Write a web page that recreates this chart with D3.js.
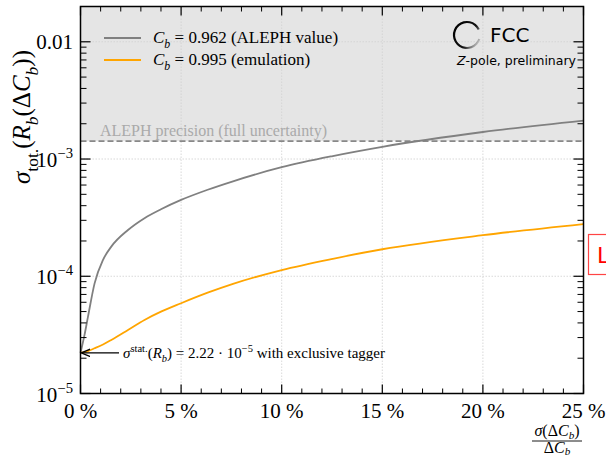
<!DOCTYPE html>
<html><head><meta charset="utf-8"><script src="https://cdn.jsdelivr.net/npm/d3@7"></script></head>
<body style="margin:0">
<script>
// values
const deltaCb = [0, 0.2, 0.37, 0.7, 1.12, 1.53, 2.36, 3.18, 4, 5, 6.32, 7.58, 10, 12.54, 15, 20, 25];
const alephSigma = [2.22e-5, 3.16e-5, 4.5e-5, 8.7e-5, 1.38e-4, 1.79e-4, 2.48e-4, 3.13e-4, 3.73e-4, 4.48e-4, 5.47e-4, 6.46e-4, 8.51e-4, 1.06e-3, 1.27e-3, 1.70e-3, 2.13e-3];
const emuSigma = [2.22e-5, 2.25e-5, 2.3e-5, 2.43e-5, 2.62e-5, 2.86e-5, 3.48e-5, 4.24e-5, 4.99e-5, 5.89e-5, 7.24e-5, 8.61e-5, 1.13e-4, 1.41e-4, 1.70e-4, 2.24e-4, 2.79e-4];
const alephPrecision = 1.42e-3;
const statPoint = 2.22e-5;
const xMajor = [0, 5, 10, 15, 20, 25];
const yMajor = [1e-5, 1e-4, 1e-3, 1e-2];

const W = 606, H = 459;
const m = {left: 80.5, right: 583.5, top: 6.5, bottom: 393.5};
const SERIF = "Liberation Serif";
const SANS = "DejaVu Sans";

const svg = d3.select("body").append("svg").attr("width", W).attr("height", H);
svg.append("style").text(".serif, .serif tspan { font-family: 'Liberation Serif', 'Times New Roman', serif; } .sans { font-family: 'DejaVu Sans', sans-serif; }");

const x = d3.scaleLinear().domain([0, 25]).range([m.left, m.right]);
const y = d3.scaleLog().domain([1e-5, 0.02]).range([m.bottom, m.top]);

// math-ish text helper: parts = [[text, kind]], kind: n, i, sub, isub, sup
function mathText(g, parts, size, subShift) {
	const t = g.append("text").attr("class", "serif").attr("font-size", size).attr("font-family", SERIF);
	const sub = subShift === undefined ? 0.3 : subShift;
	let shift = 0;
	parts.forEach(([s, k]) => {
		const sp = t.append("tspan").text(s);
		let target = 0;
		if (k === "sub" || k === "isub") { target = size * sub; sp.attr("font-size", size * 0.7); }
		if (k === "sup") { target = -size * 0.42; sp.attr("font-size", size * 0.7); }
		if (k === "i" || k === "isub") sp.attr("font-style", "italic");
		sp.attr("dy", target - shift);
		shift = target;
	});
	return t;
}

// shaded region above ALEPH precision
svg.append("rect")
	.attr("x", m.left).attr("y", m.top)
	.attr("width", m.right - m.left).attr("height", y(alephPrecision) - m.top)
	.attr("fill", "#e5e5e5");

// grid
const grid = svg.append("g").attr("stroke", "#cfcfcf").attr("stroke-width", 0.8).attr("stroke-dasharray", "1.5,1.5");
xMajor.slice(1, -1).forEach(v => grid.append("line").attr("x1", x(v)).attr("x2", x(v)).attr("y1", m.top).attr("y2", m.bottom));
yMajor.slice(1).forEach(v => grid.append("line").attr("x1", m.left).attr("x2", m.right).attr("y1", y(v)).attr("y2", y(v)));

// ALEPH precision
svg.append("line")
	.attr("x1", m.left).attr("x2", m.right)
	.attr("y1", y(alephPrecision)).attr("y2", y(alephPrecision))
	.attr("stroke", "#888").attr("stroke-width", 1.6).attr("stroke-dasharray", "6,3");
svg.append("text").attr("class", "serif").attr("x", 100).attr("y", y(alephPrecision) - 5)
	.attr("font-size", 16).attr("fill", "#aaa").attr("font-family", SERIF)
	.text("ALEPH precision (full uncertainty)");

// curves
const line = d3.line().x(d => x(d[0])).y(d => y(d[1])).curve(d3.curveMonotoneX);
svg.append("path").datum(d3.zip(deltaCb, alephSigma)).attr("d", line)
	.attr("fill", "none").attr("stroke", "#808080").attr("stroke-width", 1.8);
svg.append("path").datum(d3.zip(deltaCb, emuSigma)).attr("d", line)
	.attr("fill", "none").attr("stroke", "#ffa500").attr("stroke-width", 1.8);

// axes frame + ticks (inward, all sides)
const ax = svg.append("g").attr("stroke", "#000");
const xMinor = d3.range(0, 26).filter(v => v % 5 !== 0);
xMajor.forEach(v => {
	ax.append("line").attr("x1", x(v)).attr("x2", x(v)).attr("y1", m.bottom).attr("y2", m.bottom - 9).attr("stroke-width", 1.2);
	ax.append("line").attr("x1", x(v)).attr("x2", x(v)).attr("y1", m.top).attr("y2", m.top + 9).attr("stroke-width", 1.2);
});
xMinor.forEach(v => {
	ax.append("line").attr("x1", x(v)).attr("x2", x(v)).attr("y1", m.bottom).attr("y2", m.bottom - 5).attr("stroke-width", 1);
	ax.append("line").attr("x1", x(v)).attr("x2", x(v)).attr("y1", m.top).attr("y2", m.top + 5).attr("stroke-width", 1);
});
const yMinor = [];
[1e-5, 1e-4, 1e-3, 1e-2].forEach(d => d3.range(2, 10).forEach(k => { if (k * d < 0.02) yMinor.push(k * d); }));
yMajor.forEach(v => {
	ax.append("line").attr("x1", m.left).attr("x2", m.left + 10).attr("y1", y(v)).attr("y2", y(v)).attr("stroke-width", 1.2);
	ax.append("line").attr("x1", m.right).attr("x2", m.right - 10).attr("y1", y(v)).attr("y2", y(v)).attr("stroke-width", 1.2);
});
yMinor.forEach(v => {
	ax.append("line").attr("x1", m.left).attr("x2", m.left + 6).attr("y1", y(v)).attr("y2", y(v)).attr("stroke-width", 1);
	ax.append("line").attr("x1", m.right).attr("x2", m.right - 6).attr("y1", y(v)).attr("y2", y(v)).attr("stroke-width", 1);
});
svg.append("rect").attr("x", m.left).attr("y", m.top)
	.attr("width", m.right - m.left).attr("height", m.bottom - m.top)
	.attr("fill", "none").attr("stroke", "#000").attr("stroke-width", 1.5);

// tick labels
xMajor.forEach(v => {
	svg.append("text").attr("class", "serif").attr("x", x(v)).attr("y", m.bottom + 24)
		.attr("text-anchor", "middle").attr("font-size", 21).attr("font-family", SERIF)
		.text(v + " %");
});
const yLab = svg.append("g");
mathText(yLab.append("g").attr("transform", `translate(73,${y(1e-2) + 7})`), [["0.01", "n"]], 21).attr("text-anchor", "end");
[[1e-3, "\u22123"], [1e-4, "\u22124"], [1e-5, "\u22125"]].forEach(([v, e]) => {
	mathText(yLab.append("g").attr("transform", `translate(73,${y(v) + 8})`), [["10", "n"], [e, "sup"]], 21).attr("text-anchor", "end");
});

// y axis title
const yt = svg.append("g").attr("transform", "translate(30,117) rotate(-90)");
mathText(yt, [["\u03c3", "i"], ["tot.", "sub"], ["(", "n"], ["R", "i"], ["b", "isub"], ["(\u0394", "n"], ["C", "i"], ["b", "isub"], ["))", "n"]], 25)
	.attr("text-anchor", "middle");

// x axis title (fraction)
const xt = svg.append("g");
mathText(xt.append("g").attr("transform", "translate(557,436)"), [["\u03c3", "i"], ["(\u0394", "n"], ["C", "i"], ["b", "isub"], [")", "n"]], 16, 0.2).attr("text-anchor", "middle");
xt.append("line").attr("x1", 532).attr("x2", 582).attr("y1", 441).attr("y2", 441).attr("stroke", "#000").attr("stroke-width", 0.9);
mathText(xt.append("g").attr("transform", "translate(557,453)"), [["\u0394", "n"], ["C", "i"], ["b", "isub"]], 16, 0.15).attr("text-anchor", "middle");

// legend
const leg = svg.append("g");
[["#808080", "0.962 (ALEPH value)", 38], ["#ffa500", "0.995 (emulation)", 60]].forEach(([c, t, yy]) => {
	leg.append("line").attr("x1", 104).attr("x2", 141).attr("y1", yy).attr("y2", yy).attr("stroke", c).attr("stroke-width", 1.8);
	mathText(leg.append("g").attr("transform", `translate(153,${yy + 5})`), [["C", "i"], ["b", "isub"], [" = " + t, "n"]], 17);
});

// annotation
const defs = svg.append("defs");
defs.append("marker").attr("id", "arr").attr("viewBox", "0 0 10 10")
	.attr("refX", 9).attr("refY", 5).attr("markerWidth", 7).attr("markerHeight", 7).attr("orient", "auto")
	.append("path").attr("d", "M0,1 L10,5 L0,9").attr("fill", "none").attr("stroke", "#000").attr("stroke-width", 1.5);
svg.append("line").attr("x1", 119).attr("x2", x(0) + 1.5).attr("y1", y(statPoint)).attr("y2", y(statPoint))
	.attr("stroke", "#000").attr("stroke-width", 1.3).attr("marker-end", "url(#arr)");
mathText(svg.append("g").attr("transform", `translate(123,${y(statPoint) + 5})`),
	[["\u03c3", "i"], ["stat.", "sup"], ["(", "n"], ["R", "i"], ["b", "isub"], [") = 2.22 \u00b7 10", "n"], ["\u22125", "sup"], [" with exclusive tagger", "n"]], 15);

// FCC logo
const grad = defs.append("linearGradient").attr("id", "ring")
	.attr("x1", "0%").attr("y1", "20%").attr("x2", "100%").attr("y2", "80%");
grad.append("stop").attr("offset", "0%").attr("stop-color", "#000");
grad.append("stop").attr("offset", "60%").attr("stop-color", "#111");
grad.append("stop").attr("offset", "100%").attr("stop-color", "#e0e0e0");
svg.append("path").attr("transform", "translate(467,35)")
	.attr("d", d3.arc().innerRadius(11.9).outerRadius(14.1).startAngle(Math.PI * 0.6).endAngle(Math.PI * 2.36)())
	.attr("fill", "url(#ring)");
svg.append("text").attr("class", "sans").attr("x", 490).attr("y", 42).attr("font-size", 20)
	.attr("font-family", SANS).text("FCC");
const zp = svg.append("text").attr("class", "sans").attr("x", 457).attr("y", 65).attr("font-size", 12.5)
	.attr("font-family", SANS);
zp.append("tspan").attr("font-style", "italic").text("Z");
zp.append("tspan").text("-pole, preliminary");

// red box clipped at the right edge (as in the reference)
svg.append("rect").attr("x", 588.5).attr("y", 234.5).attr("width", 30).attr("height", 40)
	.attr("fill", "#fff").attr("stroke", "#f44").attr("stroke-width", 1.2);
svg.append("text").attr("class", "sans").attr("x", 597).attr("y", 263).attr("font-size", 22).attr("fill", "#f00")
	.attr("font-family", SANS).text("L");
</script>
</body>
</html>
